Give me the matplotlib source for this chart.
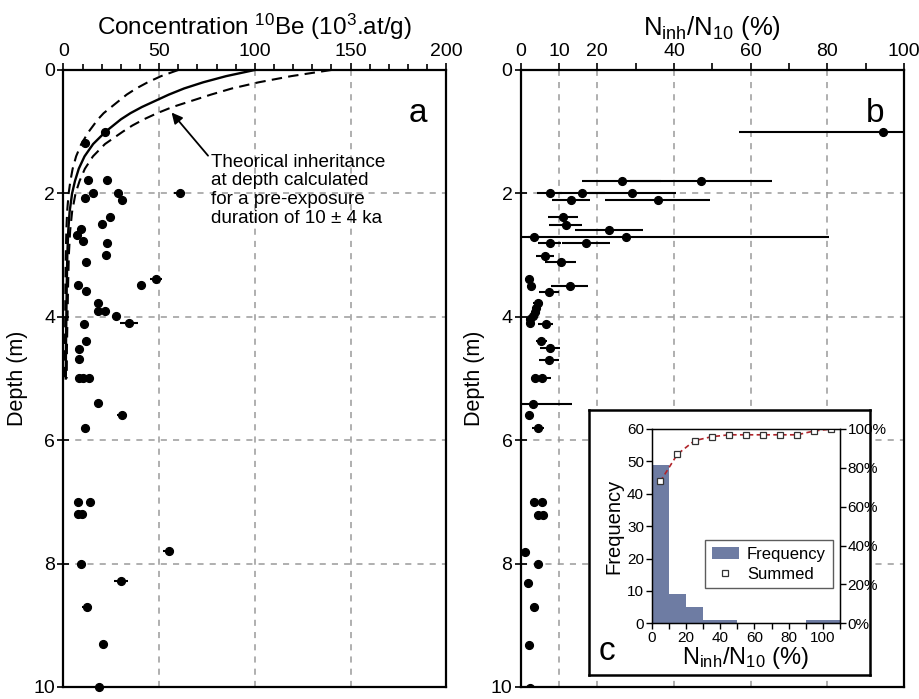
import numpy as np
import matplotlib
matplotlib.use('Agg')
import matplotlib.pyplot as plt
from matplotlib.patches import Patch
from matplotlib.lines import Line2D
from matplotlib.ticker import MultipleLocator, FixedLocator, FuncFormatter

plt.rcParams['font.family'] = ['Liberation Sans', 'DejaVu Sans']
plt.rcParams['mathtext.fontset'] = 'custom'
plt.rcParams['mathtext.rm'] = 'Liberation Sans'
plt.rcParams['mathtext.it'] = 'Liberation Sans'

# panel a: 10Be concentration (10^3 at/g) vs depth (m)
conc_depth = [1.0, 1.19, 1.78, 1.78, 1.99, 1.99, 1.99, 2.08, 2.10, 2.38, 2.50, 2.58,
              2.67, 2.78, 2.80, 3.0, 3.11, 3.39, 3.48, 3.48, 3.59, 3.78, 3.91, 3.91,
              3.99, 4.10, 4.11, 4.40, 4.52, 4.69, 5.0, 5.0, 5.0, 5.40, 5.60, 5.80,
              7.0, 7.0, 7.2, 7.2, 7.8, 8.0, 8.29, 8.70, 9.30, 10.0]
conc = [21.7, 11.2, 13.0, 23.0, 15.6, 28.6, 60.8, 11.2, 30.4, 24.3, 19.9, 9.1,
        6.9, 10.0, 22.6, 22.2, 11.7, 48.3, 7.7, 40.5, 11.7, 17.8, 17.8, 21.7,
        27.4, 34.2, 10.7, 11.6, 8.1, 8.1, 8.1, 10.0, 13.3, 18.2, 30.5, 11.4,
        7.7, 13.8, 7.7, 9.5, 54.9, 9.0, 30.0, 12.4, 20.8, 18.5]
conc_err = [1.2, 1.2, 1.2, 1.2, 1.2, 1.5, 2.9, 1.2, 1.5, 1.2, 1.2, 1.0,
            1.0, 1.0, 1.2, 1.2, 1.0, 3.0, 1.0, 2.0, 1.0, 1.2, 1.2, 1.2,
            1.5, 4.7, 1.0, 1.0, 1.0, 1.0, 1.0, 1.0, 1.0, 1.2, 2.6, 1.0,
            1.0, 1.0, 1.0, 1.0, 2.8, 1.0, 3.7, 2.5, 1.2, 1.2]

# theoretical inheritance curves (10 ka, 6 ka, 14 ka)
curve_depth = [0, 0.1, 0.2, 0.3, 0.4, 0.5, 0.6, 0.7, 0.8, 0.9, 1.0, 1.2, 1.4,
               1.6, 1.8, 2.0, 2.3, 2.6, 3.0, 3.5, 4.0, 4.5, 5.0]
curve_mid = [100, 85, 73, 63, 55, 48, 41, 35, 30, 26, 22, 15.5, 11,
             8, 6, 4.5, 3.2, 2.5, 2.0, 1.7, 1.5, 1.3, 1.2]
curve_low = [60, 51, 44, 38, 33, 29, 25, 21, 18, 15.6, 13.2, 9.3, 6.6,
             4.8, 3.6, 2.7, 1.9, 1.5, 1.2, 1.0, 0.9, 0.8, 0.7]
curve_high = [140, 119, 102, 88, 77, 67, 57, 49, 42, 36, 31, 21.7, 15.4,
              11.2, 8.4, 6.3, 4.5, 3.5, 2.8, 2.4, 2.1, 1.8, 1.7]

# panel b: Ninh/N10 (%) vs depth
inh_depth = [1.0, 1.80, 1.80, 1.99, 1.99, 1.99, 2.11, 2.11, 2.39, 2.51, 2.60, 2.70,
             2.70, 2.80, 2.80, 3.01, 3.11, 3.39, 3.50, 3.50, 3.60, 3.78, 3.86, 3.92,
             3.99, 4.03, 4.10, 4.11, 4.39, 4.51, 4.70, 5.0, 5.0, 5.41, 5.59, 5.81,
             7.01, 7.01, 7.21, 7.21, 7.81, 8.01, 8.32, 8.71, 9.32, 10.02]
inh = [94.4, 26.3, 47.0, 7.6, 15.9, 29.1, 13.1, 35.8, 11.0, 11.7, 23.0, 3.5,
       27.4, 7.6, 17.1, 6.3, 10.4, 2.2, 2.6, 12.8, 7.4, 4.5, 4.1, 3.7,
       3.1, 2.5, 2.3, 6.5, 5.4, 7.6, 7.4, 3.8, 5.6, 3.1, 2.1, 4.5,
       3.4, 5.6, 4.5, 5.8, 1.0, 4.6, 1.9, 3.4, 2.2, 2.3]
inh_err = [37.4, 10.2, 18.5, 3.3, 6.0, 11.3, 4.9, 13.7, 4.0, 4.4, 8.8, 1.5,
           53.1, 3.0, 6.3, 2.3, 4.0, 1.0, 1.0, 4.8, 2.7, 1.3, 1.2, 1.1,
           1.0, 1.0, 0.8, 2.0, 1.5, 2.7, 2.7, 1.2, 2.4, 10.4, 0.8, 1.6,
           1.0, 1.0, 1.0, 1.0, 0.5, 1.0, 0.6, 1.0, 0.6, 0.6]

# panel c: histogram of Ninh/N10
bin_left = [0, 10, 20, 30, 40, 50, 60, 70, 80, 90, 100]
freq = [49, 9, 5, 1, 1, 0, 0, 0, 0, 1, 1]
summed_x = [5, 15, 25, 35, 45, 55, 65, 75, 85, 95, 105]
summed_pct = [73, 87, 94, 96, 97, 97, 97, 97, 97, 99, 100]

grid_kw = dict(color='#9a9a9a', lw=1.1, ls=(0, (4, 4)), zorder=0)


def style_depth_axis(ax):
    ax.set_ylim(10, 0)
    ax.yaxis.set_major_locator(MultipleLocator(2))
    ax.xaxis.tick_top()
    ax.xaxis.set_label_position('top')
    ax.tick_params(axis='both', direction='out', length=5, width=1.2,
                   labelsize=14, pad=2)
    ax.tick_params(axis='y', direction='inout', length=8)
    ax.tick_params(axis='x', which='minor', direction='out', length=4, width=1.2)
    for s in ax.spines.values():
        s.set_linewidth(1.6)
    for d in [2, 4, 6, 8]:
        ax.axhline(d, **grid_kw)
    ax.set_ylabel('Depth (m)', fontsize=15.5, labelpad=4)


fig = plt.figure(figsize=(9.2, 6.99), dpi=100)

# ---- panel a
ax1 = fig.add_axes([0.069, 0.0172, 0.416, 0.8827])
style_depth_axis(ax1)
ax1.set_xlim(0, 200)
ax1.xaxis.set_major_locator(MultipleLocator(50))
ax1.xaxis.set_minor_locator(MultipleLocator(10))
for x in [50, 100, 150]:
    ax1.axvline(x, **grid_kw)
ax1.plot(curve_mid, curve_depth, color='black', lw=1.7)
ax1.plot(curve_low, curve_depth, color='black', lw=1.5, ls=(0, (5, 3)))
ax1.plot(curve_high, curve_depth, color='black', lw=1.5, ls=(0, (5, 3)))
ax1.errorbar(conc, conc_depth, xerr=conc_err, fmt='o', color='black', ms=5.6,
             elinewidth=1.5, capsize=0, zorder=3, clip_on=False)
ax1.set_xlabel('Concentration $^{10}$Be (10$^{3}$.at/g)', fontsize=17.5, labelpad=6)
ax1.annotate('Theorical inheritance\nat depth calculated\nfor a pre-exposure\nduration of 10 ± 4 ka',
             xy=(56.5, 0.69), xytext=(77, 1.36), fontsize=13.6, linespacing=1.12,
             va='top', ha='left',
             arrowprops=dict(arrowstyle='-|>', color='black', lw=1.3,
                             mutation_scale=16, shrinkA=0, shrinkB=0,
                             relpos=(0, 0.93)))
ax1.text(0.95, 0.955, 'a', transform=ax1.transAxes, fontsize=24,
         ha='right', va='top')

# ---- panel b
ax2 = fig.add_axes([0.566, 0.0172, 0.4166, 0.8827])
style_depth_axis(ax2)
ax2.set_xlim(0, 100)
ax2.xaxis.set_major_locator(MultipleLocator(10))
ax2.xaxis.set_major_formatter(FuncFormatter(
    lambda v, p: '' if int(round(v)) in (30, 50, 70, 90) else '%d' % v))
for x in [10, 20, 40, 60, 80]:
    ax2.axvline(x, **grid_kw)
ax2.errorbar(inh, inh_depth, xerr=inh_err, fmt='o', color='black', ms=5.6,
             elinewidth=1.5, capsize=0, zorder=3)
ax2.set_xlabel('N$_{\\mathrm{inh}}$/N$_{10}$ (%)', fontsize=18.5, labelpad=6)
ax2.text(0.95, 0.955, 'b', transform=ax2.transAxes, fontsize=24,
         ha='right', va='top')

# ---- panel c (inset)
box = fig.add_axes([0.640, 0.0343, 0.3054, 0.379])
box.set_xticks([])
box.set_yticks([])
box.set_facecolor('white')
for s in box.spines.values():
    s.set_linewidth(1.8)
box.text(0.035, 0.03, 'c', transform=box.transAxes, fontsize=24,
         ha='left', va='bottom')

ax3 = fig.add_axes([0.7084, 0.1083, 0.2047, 0.278])
ax3.bar(bin_left, freq, width=10, align='edge', color='#6e7ca3', lw=0)
ax3.set_xlim(0, 110)
ax3.set_ylim(0, 60)
ax3.xaxis.set_major_locator(FixedLocator([0, 20, 40, 60, 80, 100]))
ax3.xaxis.set_minor_locator(MultipleLocator(10))
ax3.yaxis.set_major_locator(MultipleLocator(10))
ax3.tick_params(axis='both', labelsize=11, length=4, width=1, pad=1.5)
ax3.tick_params(axis='x', which='minor', length=4, width=1)
ax3.set_ylabel('Frequency', fontsize=14.5, labelpad=3)
ax3.set_xlabel('N$_{\\mathrm{inh}}$/N$_{10}$ (%)', fontsize=17, labelpad=0)
for s in ax3.spines.values():
    s.set_linewidth(1.0)

ax4 = ax3.twinx()
ax4.plot(summed_x, summed_pct, color='#b0242a', lw=1.2, ls=(0, (3, 2)),
         marker='s', ms=4.5, mfc='white', mec='#333333', mew=0.9)
ax4.set_ylim(0, 100)
ax4.yaxis.set_major_locator(MultipleLocator(20))
ax4.yaxis.set_major_formatter(FuncFormatter(lambda v, p: '%d%%' % v))
ax4.tick_params(axis='y', labelsize=11, length=4, width=1, pad=1.5)

handles = [Patch(facecolor='#6e7ca3', edgecolor='none', label='Frequency'),
           Line2D([], [], ls='none', marker='s', ms=4.5, mfc='white',
                  mec='#333333', mew=0.9, label='Summed')]
leg = ax3.legend(handles=handles, loc='lower right', bbox_to_anchor=(0.96, 0.18),
                 fontsize=12, frameon=True, fancybox=False, edgecolor='#333333',
                 handlelength=1.6, handletextpad=0.5, borderpad=0.4,
                 labelspacing=0.3, borderaxespad=0)
leg.get_frame().set_linewidth(1.0)
leg.set_zorder(10)

fig.savefig('out.png', dpi=100)
